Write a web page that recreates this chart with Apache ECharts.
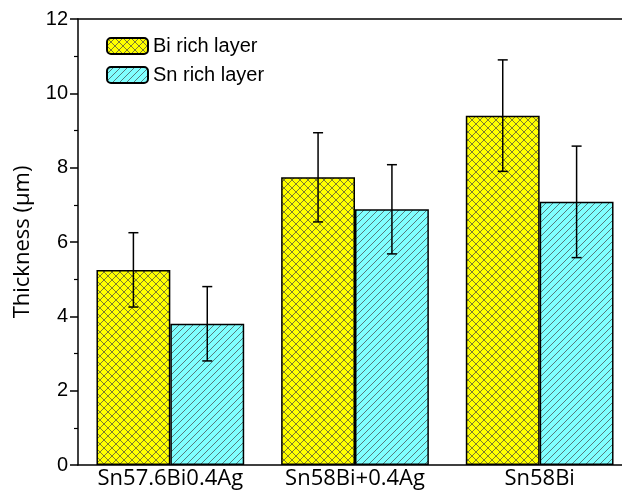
<!DOCTYPE html>
<html>
<head>
<meta charset="utf-8">
<script src="https://cdn.jsdelivr.net/npm/echarts@6/dist/echarts.min.js"></script>
<style>
  html, body { margin: 0; padding: 0; background: #fff; }
  #chart { width: 622px; height: 492px; }
</style>
</head>
<body>
<div id="chart"></div>
<script>
// data
const categories = ['Sn57.6Bi0.4Ag', 'Sn58Bi+0.4Ag', 'Sn58Bi'];
const biValues = [5.25, 7.74, 9.40];
const biErrors = [1.0, 1.2, 1.5];
const snValues = [3.80, 6.88, 7.08];
const snErrors = [1.0, 1.2, 1.5];
const yTicks = [0, 2, 4, 6, 8, 10, 12];

// hatch fills
function makePattern(bg, size, cross) {
	const c = document.createElement('canvas');
	c.width = size; c.height = size;
	const ctx = c.getContext('2d');
	ctx.fillStyle = bg;
	ctx.fillRect(0, 0, size, size);
	ctx.strokeStyle = '#444';
	ctx.lineWidth = 0.7;
	ctx.beginPath();
	ctx.moveTo(-1, size + 1); ctx.lineTo(size + 1, -1);
	if (cross) {
		ctx.moveTo(-1, -1); ctx.lineTo(size + 1, size + 1);
	}
	ctx.stroke();
	return {image: c, repeat: 'repeat'};
}
const biFill = makePattern('#ffff00', 8, true);
const snFill = makePattern('#80ffff', 7, false);

function errData(values, errors) {
	return values.map((v, i) => [i, v - errors[i], v + errors[i]]);
}

function errRender(offset) {
	return function (params, api) {
		const i = api.value(0);
		const lo = api.coord([i, api.value(1)]);
		const hi = api.coord([i, api.value(2)]);
		const band = api.size([1, 0])[0];
		const x = lo[0] + band * offset;
		const cap = 5;
		const style = {stroke: '#000', lineWidth: 1.5};
		return {
			type: 'group',
			children: [
				{type: 'line', shape: {x1: x, y1: lo[1], x2: x, y2: hi[1]}, style: style},
				{type: 'line', shape: {x1: x - cap, y1: lo[1], x2: x + cap, y2: lo[1]}, style: style},
				{type: 'line', shape: {x1: x - cap, y1: hi[1], x2: x + cap, y2: hi[1]}, style: style}
			]
		};
	};
}

const chart = echarts.init(document.getElementById('chart'));
const option = {
	animation: false,
	grid: {
		left: 78, right: -10, top: 19, bottom: 27,
		outerBoundsMode: 'none',
		containLabel: false
	},
	legend: {
		orient: 'vertical',
		left: 101, top: 31,
		itemWidth: 41, itemHeight: 16, itemGap: 9,
		textStyle: {fontFamily: 'Liberation Sans, Arial', fontSize: 20, color: '#000'},
		data: ['Bi rich layer', 'Sn rich layer']
	},
	xAxis: [
		{
			type: 'category',
			data: categories,
			axisLine: {lineStyle: {color: '#000', width: 1.5}},
			axisTick: {show: false},
			axisLabel: {fontFamily: 'Open Sans', fontSize: 22, color: '#000', margin: 3, interval: 0}
		},
		{
			// top frame line
			type: 'category',
			position: 'top',
			data: categories,
			axisLine: {show: true, lineStyle: {color: '#000', width: 1.5}},
			axisTick: {show: false},
			axisLabel: {show: false}
		}
	],
	yAxis: {
		type: 'value',
		min: 0, max: 12, interval: 2,
		name: 'Thickness (\u03bcm)',
		nameLocation: 'middle',
		nameGap: 44,
		nameTextStyle: {fontFamily: 'Open Sans', fontSize: 22, color: '#000'},
		axisLine: {show: true, lineStyle: {color: '#000', width: 1.5}},
		axisTick: {show: true, inside: false, length: 8, lineStyle: {color: '#000', width: 1.5}},
		minorTick: {show: true, splitNumber: 2, length: 4, lineStyle: {color: '#000', width: 1.2}},
		splitLine: {show: false},
		axisLabel: {
			fontFamily: 'Liberation Sans, Arial', fontSize: 20, color: '#000', margin: 10,
			formatter: v => yTicks.includes(v) ? String(v) : ''
		}
	},
	series: [
		{
			name: 'Bi rich layer',
			type: 'bar',
			data: biValues,
			barWidth: '40%',
			barGap: '0%',
			itemStyle: {color: biFill, borderColor: '#000', borderWidth: 1.5}
		},
		{
			name: 'Sn rich layer',
			type: 'bar',
			data: snValues,
			barWidth: '40%',
			barGap: '0%',
			itemStyle: {color: snFill, borderColor: '#000', borderWidth: 1.5}
		},
		{
			type: 'custom',
			renderItem: errRender(-0.2),
			data: errData(biValues, biErrors),
			encode: {x: 0, y: [1, 2]},
			z: 10
		},
		{
			type: 'custom',
			renderItem: errRender(0.2),
			data: errData(snValues, snErrors),
			encode: {x: 0, y: [1, 2]},
			z: 10
		}
	]
};
chart.setOption(option);
</script>
</body>
</html>
